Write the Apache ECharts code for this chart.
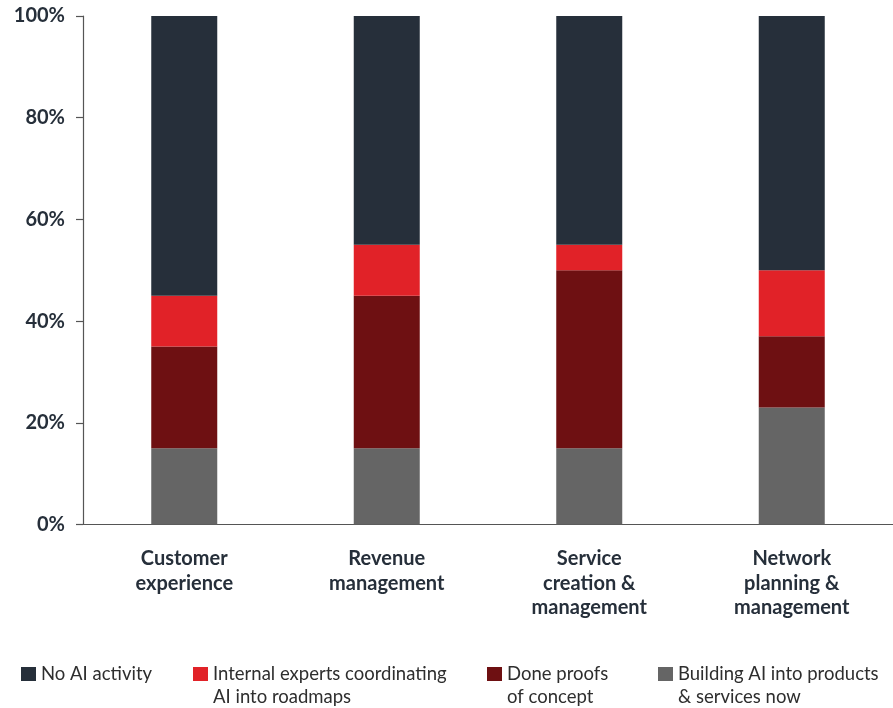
<!DOCTYPE html>
<html>
<head>
<meta charset="utf-8">
<script src="https://cdn.jsdelivr.net/npm/echarts@6/dist/echarts.min.js"></script>
<style>
  html, body { margin: 0; padding: 0; background: #ffffff; }
  #chart { width: 893px; height: 708px; }
</style>
</head>
<body>
<div id="chart"></div>
<script>
// AI activity by business area, share of respondents (%)
const categories = [
  'Customer\nexperience',
  'Revenue\nmanagement',
  'Service\ncreation &\nmanagement',
  'Network\nplanning &\nmanagement'
];
const buildingNow = [15, 15, 15, 23];
const doneProofs = [20, 30, 35, 14];
const internalExperts = [10, 10, 5, 13];
const noActivity = [55, 45, 45, 50];
const yTicks = [0, 20, 40, 60, 80, 100];

const seriesNames = {
  none: 'No AI activity',
  internal: 'Internal experts coordinating\nAI into roadmaps',
  done: 'Done proofs\nof concept',
  building: 'Building AI into products\n& services now'
};
const colors = {
  none: '#262f3a',
  internal: '#e12228',
  done: '#6e1012',
  building: '#656565'
};

const FONT = 'Lato, "Noto Sans", sans-serif';
const LINE_H = 23;
const SWATCH_TOP = 667;
const chart = echarts.init(document.getElementById('chart'), null, { renderer: 'canvas' });

function bar(key, values) {
  return {
    name: seriesNames[key],
    type: 'bar',
    stack: 'total',
    barWidth: 66,
    data: values,
    itemStyle: { color: colors[key] },
    emphasis: { disabled: true }
  };
}

// One legend block per series. Two-line labels get a blank leading line so
// the first text line sits level with the swatch instead of straddling it.
function legendBlock(key, left) {
  const twoLine = seriesNames[key].indexOf('\n') >= 0;
  return {
    data: [seriesNames[key]],
    left: left,
    top: twoLine ? SWATCH_TOP - (1.5 * LINE_H - 7) : SWATCH_TOP - (LINE_H / 2 - 7),
    padding: 0,
    itemWidth: 15,
    itemHeight: 14,
    icon: 'rect',
    selectedMode: false,
    formatter: name => (twoLine ? '\n' + name : name),
    textStyle: {
      fontFamily: FONT,
      fontSize: 18.5,
      color: '#2e2e2e',
      lineHeight: LINE_H
    }
  };
}

chart.setOption({
  animation: false,
  textStyle: { fontFamily: FONT },
  grid: { left: 83, right: 0, top: 16, bottom: 708 - 524.5 },
  legend: [
    legendBlock('none', 21),
    legendBlock('internal', 193),
    legendBlock('done', 487),
    legendBlock('building', 658)
  ],
  xAxis: {
    type: 'category',
    data: categories,
    axisLine: { show: true, lineStyle: { color: '#555555', width: 1.2 } },
    axisTick: { show: false },
    axisLabel: {
      interval: 0,
      margin: 22,
      fontFamily: FONT,
      fontSize: 20,
      fontWeight: 'bold',
      lineHeight: 24.5,
      color: '#262f3a',
      align: 'center'
    }
  },
  yAxis: {
    type: 'value',
    min: yTicks[0],
    max: yTicks[yTicks.length - 1],
    interval: 20,
    splitLine: { show: false },
    axisLine: { show: true, lineStyle: { color: '#555555', width: 1.2 } },
    axisTick: { show: true, length: 7, lineStyle: { color: '#555555', width: 1.2 } },
    axisLabel: {
      margin: 18,
      fontFamily: FONT,
      fontSize: 20,
      fontWeight: 'bold',
      color: '#262f3a',
      formatter: v => v + '%'
    }
  },
  series: [
    bar('building', buildingNow),
    bar('done', doneProofs),
    bar('internal', internalExperts),
    bar('none', noActivity)
  ]
});
</script>
</body>
</html>
